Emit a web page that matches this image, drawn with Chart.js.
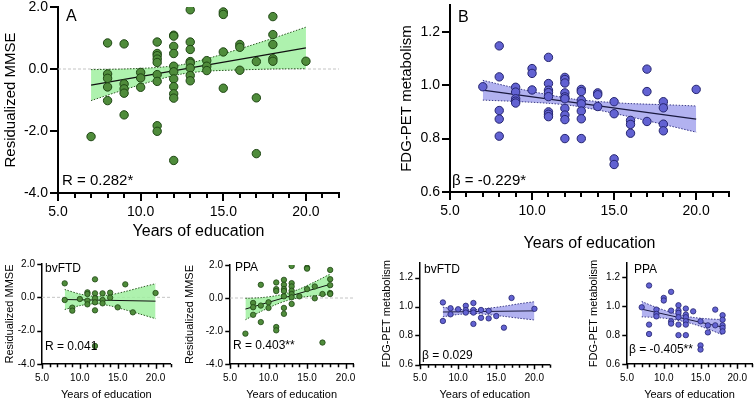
<!DOCTYPE html>
<html><head><meta charset="utf-8">
<script src="https://cdn.jsdelivr.net/npm/chart.js@4"></script>
<style>
html,body{margin:0;padding:0;background:#fff;}
body{width:756px;height:400px;overflow:hidden;position:relative;}
canvas{position:absolute;}
</style></head>
<body>
<canvas id="cA"></canvas><canvas id="cB"></canvas>
<canvas id="cC"></canvas><canvas id="cD"></canvas>
<canvas id="cE"></canvas><canvas id="cF"></canvas>
<script>
// ================= DATA =================
// shared x-axis ticks
const xTickValues = [5,6,7,8,9,10,11,12,13,14,15,16,17,18,19,20,21,22];
const xMajor = [5,10,15,20];
const xTickLabels = ['5.0','10.0','15.0','20.0'];
const mmseTicks = [-4,-2,0,2];
const mmseTickLabels = ['-4.0','-2.0','0.0','2.0'];
const fdgTicks = [0.6,0.8,1.0,1.2];
const fdgTickLabels = ['0.6','0.8','1.0','1.2'];

// Panel A: all patients, residualized MMSE
const eduA = [7, 8,8,8,8,8, 9,9,9,9,9, 10,10,10, 11,11,11,11,11,11,11,11,11,
  12,12,12,12,12,12,12,12,12,12,12, 13,13,13,13,13,13,13,13, 14,14,14,
  15,15,15,15, 16,16,16, 17,17,17, 18,18,18,18,18, 20];
const mmseA = [-2.18, 0.84,-0.16,-0.30,-0.58,-1.02, 0.81,-0.48,-0.64,-0.78,-1.48,
  -0.11,-0.29,-0.59, 0.87,0.50,0.43,0.32,0.21,-0.18,-0.40,-1.83,-2.01,
  1.09,1.06,0.73,0.50,0.09,-0.09,-0.32,-0.57,-0.80,-0.94,-2.95,
  1.91,0.87,0.63,0.24,0.19,0.03,-0.21,-0.38, 0.27,0.09,-0.05,
  1.84,1.76,0.55,-0.62, 0.79,0.70,-0.04, 0.24,-0.93,-2.73,
  1.69,1.11,0.79,0.33,0.25, 0.25];
const fitXA = [7, 20];
const fitYA = [-0.52, 0.68];
const bandXA = [7, 9, 11, 12.5, 14, 16, 18, 20];
const bandUpA = [-0.02, 0.00, 0.05, 0.14, 0.33, 0.65, 0.99, 1.35];
const bandLoA = [-1.02, -0.67, -0.35, -0.16, -0.07, -0.03, 0.00, 0.01];

// Panel B: all patients, FDG-PET metabolism
const eduB = [7, 8,8,8,8,8, 9,9,9,9,9, 10,10,10, 11,11,11,11,11,11,11,11,
  12,12,12,12,12,12,12,12,12,12, 13,13,13,13,13,13,13, 14,14,14,
  15,15,15,15, 16,16,16, 17,17,17, 18,18,18,18, 20];
const fdgB = [0.994, 1.147,1.031,0.905,0.873,0.809, 0.992,0.974,0.949,0.940,0.933,
  1.062,1.044,0.982, 1.104,1.006,0.981,0.972,0.957,0.900,0.891,0.882,
  1.029,1.021,1.008,0.971,0.956,0.949,0.913,0.888,0.871,0.800,
  0.984,0.976,0.944,0.930,0.903,0.874,0.800, 0.971,0.964,0.920,
  0.938,0.893,0.724,0.703, 0.868,0.853,0.820, 1.060,0.976,0.864,
  0.938,0.915,0.854,0.829, 0.984];
const fitXB = [7, 20];
const fitYB = [0.981, 0.873];
const bandXB = [7, 9, 11, 12.5, 14, 16, 18, 20];
const bandUpB = [1.018, 0.989, 0.964, 0.948, 0.939, 0.931, 0.927, 0.922];
const bandLoB = [0.944, 0.939, 0.932, 0.923, 0.907, 0.881, 0.853, 0.824];

// Panel C: bvFTD, residualized MMSE
const eduC = [8,8, 9,9, 10, 11,11,11,11, 12,12,12,12,12,12, 13,13,13, 14,14, 15, 16, 17, 20];
const mmseC = [0.84,-0.16, -0.62,-0.80, -0.10, 0.30,0.20,-0.20,-0.42,
  1.08,0.24,-0.06,-0.30,-0.78,-2.92, 0.24,-0.16,-0.36, 0.28,-0.02, -0.60, 0.78, -0.90, 0.26];
const fitXC = [8, 20];
const fitYC = [-0.13, -0.23];
const bandXC = [8, 10, 12, 14, 16, 18, 20];
const bandUpC = [0.47, 0.20, 0.06, 0.15, 0.35, 0.59, 0.82];
const bandLoC = [-0.73, -0.50, -0.38, -0.51, -0.75, -1.01, -1.28];

// Panel D: PPA, residualized MMSE
const eduD = [7, 8,8,8, 9,9,9, 10,10, 11,11,11,11,11, 12,12,12,12,12,12,12,
  13,13,13,13,13,13,13, 14, 15,15,15, 16,16, 17,17, 18,18,18,18,18];
const mmseD = [-2.16, -0.30,-0.56,-1.02, 0.80,-0.46,-1.46, -0.26,-0.60,
  0.94,0.54,0.42,-1.76,-1.96, 1.10,0.80,0.54,0.42,0.10,-0.60,-0.96,
  1.94,0.90,0.70,0.44,0.24,0.04,-0.36, 0.10, 1.84,1.78,0.54, 0.70,-0.02,
  0.24,-2.70, 1.70,1.14,0.78,0.30,0.24];
const fitXD = [7, 18];
const fitYD = [-0.67, 0.83];
const bandXD = [7, 9, 11, 12.5, 14, 16, 18];
const bandUpD = [-0.02, 0.02, 0.14, 0.30, 0.54, 0.98, 1.45];
const bandLoD = [-1.32, -0.82, -0.39, -0.14, 0.02, 0.14, 0.21];

// Panel E: bvFTD, FDG-PET metabolism
const eduE = [8,8, 9,9, 10, 11,11,11, 12,12,12,12, 13,13, 14,14, 15, 16, 17, 20];
const fdgE = [1.028,0.900, 0.988,0.946, 0.981, 1.005,0.975,0.958,
  1.024,0.976,0.958,0.880, 0.976,0.922, 0.970,0.918, 0.934, 0.854, 1.059, 0.984];
const fitXE = [8, 20];
const fitYE = [0.962, 0.970];
const bandXE = [8, 10, 12, 14, 16, 18, 20];
const bandUpE = [0.995, 0.981, 0.978, 0.988, 1.002, 1.019, 1.033];
const bandLoE = [0.929, 0.945, 0.952, 0.944, 0.932, 0.919, 0.907];

// Panel F: PPA, FDG-PET metabolism
const eduF = [7, 8,8,8, 9,9,9, 10,10, 11,11,11,11, 12,12,12,12,12,12,
  13,13,13,13,13,13, 14, 15,15,15, 16,16, 17,17, 18,18,18,18,18];
const fdgF = [0.993, 1.144,0.873,0.808, 0.977,0.947,0.930, 1.058,1.040,
  1.100,0.970,0.896,0.880, 1.007,0.970,0.954,0.924,0.873,0.800,
  0.984,0.942,0.924,0.896,0.873,0.800, 0.965, 0.896,0.729,0.700,
  0.868,0.819, 0.977,0.868, 0.938,0.907,0.868,0.850,0.826];
const fitXF = [7, 18];
const fitYF = [0.980, 0.855];
const bandXF = [7, 9, 11, 12.5, 14, 16, 18];
const bandUpF = [1.033, 0.992, 0.958, 0.937, 0.923, 0.913, 0.908];
const bandLoF = [0.927, 0.922, 0.912, 0.897, 0.877, 0.843, 0.802];

// ================= RENDERING =================
Chart.defaults.font.family = "'Liberation Sans', Arial, Helvetica, sans-serif";
Chart.defaults.color = '#000';

const GREEN = {pt:'#4f8c3b', ptBorder:'#1e4613', band:'rgba(160,240,160,0.85)', line:'#111', dot:'#2d5a24'};
const BLUE  = {pt:'#6262d2', ptBorder:'#24246e', band:'rgba(170,170,238,0.9)', line:'#1a1a40', dot:'#3a3a88'};

const pts = (xs, ys) => xs.map((x,i)=>({x, y: ys[i]}));

const axisTicks = {
  id: 'axisTicks',
  afterDraw(chart, args, o) {
    const {ctx, chartArea: ca} = chart;
    const xs = chart.scales.x, ys = chart.scales.y;
    ctx.save();
    ctx.strokeStyle = '#000';
    ctx.lineWidth = o.width;
    ctx.beginPath();
    const off = o.width % 2 ? 0.5 : 0;
    xTickValues.filter(v => v <= o.xMax).forEach(v => {
      const px = Math.round(xs.getPixelForValue(v)) + off;
      const len = xMajor.includes(v) ? o.major : o.minor;
      ctx.moveTo(px, ca.bottom); ctx.lineTo(px, ca.bottom + len + o.width/2);
    });
    o.yTicks.forEach(v => {
      const py = Math.round(ys.getPixelForValue(v)) + off;
      ctx.moveTo(ca.left - o.major - o.width/2, py); ctx.lineTo(ca.left, py);
    });
    ctx.stroke();
    ctx.restore();
  }
};

const notes = {
  id: 'notes',
  afterDraw(chart, args, o) {
    const {ctx} = chart;
    ctx.save();
    ctx.fillStyle = '#000';
    ctx.textBaseline = 'middle';
    ctx.textAlign = 'left';
    o.items.forEach(it => {
      ctx.font = it.size + "px 'Liberation Sans', Arial, sans-serif";
      ctx.fillText(it.text, it.x - o.ox, it.y - o.oy);
    });
    ctx.restore();
  }
};

function panel(id, c) {
  const cv = document.getElementById(id);
  cv.width = c.box.w; cv.height = c.box.h;
  cv.style.left = c.box.x + 'px'; cv.style.top = c.box.y + 'px';
  const a = c.area;
  const xMax = c.xMax || 22;
  const lhT = c.titleSize * 1.2;
  const lhX = c.xTitleSize * 1.2;
  const yScaleLeft = c.yTitleCx - lhT / 2;
  const yw = a.L - yScaleLeft;
  const xScaleBottom = c.xTitleCy + lhX / 2;
  const xh = xScaleBottom - a.B;
  const pad = {
    left: yScaleLeft - c.box.x,
    top: a.T - c.box.y,
    right: c.box.x + c.box.w - a.R,
    bottom: c.box.y + c.box.h - xScaleBottom
  };
  const col = c.color;
  const datasets = [
    {type:'scatter', data: pts(c.xs, c.ys), backgroundColor: col.pt, borderColor: col.ptBorder,
     borderWidth: c.ptBorder, pointRadius: c.r, pointHoverRadius: c.r},
    {type:'line', data: pts(c.fitX, c.fitY), borderColor: col.line, borderWidth: c.lineW,
     pointRadius: 0, fill: false},
    {type:'line', data: pts(c.bandX, c.bandUp), borderColor: col.dot, borderWidth: 1,
     borderDash: [1.5, 1.5], pointRadius: 0, fill: false, tension: 0.3},
    {type:'line', data: pts(c.bandX, c.bandLo), borderColor: col.dot, borderWidth: 1,
     borderDash: [1.5, 1.5], pointRadius: 0, fill: '-1', backgroundColor: col.band, tension: 0.3}
  ];
  if (c.zeroLine) {
    datasets.push({type:'line', data: pts([5, xMax], [0, 0]), borderColor: '#c4c4c4', borderWidth: 1,
      borderDash: [3, 2], pointRadius: 0, fill: false});
  }
  new Chart(cv, {
    type: 'scatter',
    data: {datasets},
    plugins: [axisTicks, notes],
    options: {
      responsive: false, animation: false, events: [],
      layout: {padding: pad},
      plugins: {
        legend: {display: false}, tooltip: {enabled: false},
        axisTicks: {width: c.axisW, major: c.tickMajor, minor: c.tickMinor, yTicks: c.yTicks, xMax},
        notes: {ox: c.box.x, oy: c.box.y, items: c.notes}
      },
      scales: {
        x: {
          type: 'linear', min: 5, max: xMax,
          afterBuildTicks: s => { s.ticks = xTickValues.filter(v => v <= xMax).map(v => ({value: v})); },
          afterFit: s => { s.height = xh; },
          grid: {display: true, drawOnChartArea: false, drawTicks: true, tickLength: c.tickMajor,
                 tickColor: 'rgba(0,0,0,0)'},
          border: {display: true, color: '#000', width: c.axisW},
          ticks: {autoSkip: false, maxRotation: 0, padding: c.xTickPad,
                  font: {size: c.tickSize},
                  callback: v => { const i = xMajor.indexOf(v); return i >= 0 ? xTickLabels[i] : ''; }},
          title: {display: true, text: 'Years of education', font: {size: c.xTitleSize}, padding: 0}
        },
        y: {
          type: 'linear', min: c.yMin, max: c.yMax,
          afterBuildTicks: s => { s.ticks = c.yTicks.map(v => ({value: v})); },
          afterFit: s => { s.width = yw; },
          grid: {display: true, drawOnChartArea: false, drawTicks: true, tickLength: c.tickMajor,
                 tickColor: 'rgba(0,0,0,0)'},
          border: {display: true, color: '#000', width: c.axisW},
          ticks: {autoSkip: false, padding: c.yTickPad, font: {size: c.tickSize},
                  callback: v => { const i = c.yTicks.findIndex(t => Math.abs(t - v) < 1e-9); return i >= 0 ? c.yLabels[i] : ''; }},
          title: {display: true, text: c.yTitle, font: {size: c.titleSize}, padding: 0}
        }
      }
    }
  });
}

// ----- top row -----
panel('cA', {
  box: {x: 0, y: -13, w: 345, h: 270},
  area: {L: 58, T: 7, R: 339, B: 193},
  yTitleCx: 10.5, xTitleCy: 232, titleSize: 15, xTitleSize: 16, tickSize: 14,
  xTickPad: 4, yTickPad: 3, tickMajor: 7, tickMinor: 4, axisW: 2,
  yMin: -4, yMax: 2, yTicks: mmseTicks, yLabels: mmseTickLabels, yTitle: 'Residualized MMSE',
  xs: eduA, ys: mmseA, fitX: fitXA, fitY: fitYA, bandX: bandXA, bandUp: bandUpA, bandLo: bandLoA,
  color: GREEN, r: 4.2, ptBorder: 1, lineW: 1.3, zeroLine: true,
  notes: [{text: 'A', x: 66, y: 17, size: 16}, {text: 'R = 0.282*', x: 62, y: 181, size: 15}]
});
panel('cB', {
  box: {x: 390, y: -15, w: 345, h: 275},
  area: {L: 450, T: 5, R: 729, B: 192},
  yTitleCx: 407, xTitleCy: 244, titleSize: 15, xTitleSize: 16, tickSize: 14,
  xTickPad: 4, yTickPad: 3, tickMajor: 7, tickMinor: 4, axisW: 2,
  yMin: 0.6, yMax: 1.3, yTicks: fdgTicks, yLabels: fdgTickLabels, yTitle: 'FDG-PET metabolism',
  xs: eduB, ys: fdgB, fitX: fitXB, fitY: fitYB, bandX: bandXB, bandUp: bandUpB, bandLo: bandLoB,
  color: BLUE, r: 4.2, ptBorder: 1, lineW: 1.3, zeroLine: false,
  notes: [{text: 'B', x: 458, y: 18, size: 16}, {text: 'β = -0.229*', x: 452, y: 181, size: 15}]
});
// ----- bottom row -----
panel('cC', {
  box: {x: 0, y: 250, w: 176, h: 155},
  area: {L: 42, T: 264, R: 170.7, B: 364},
  yTitleCx: 10, xTitleCy: 395, titleSize: 11, xTitleSize: 11, tickSize: 10,
  xTickPad: 4, yTickPad: 3, tickMajor: 4, tickMinor: 2.5, axisW: 1.5,
  yMin: -4, yMax: 2, yTicks: mmseTicks, yLabels: mmseTickLabels, yTitle: 'Residualized MMSE',
  xs: eduC, ys: mmseC, fitX: fitXC, fitY: fitYC, bandX: bandXC, bandUp: bandUpC, bandLo: bandLoC,
  color: GREEN, r: 2.7, ptBorder: 0.8, lineW: 1, zeroLine: true,
  notes: [{text: 'bvFTD', x: 45, y: 269, size: 12}, {text: 'R = 0.041', x: 45, y: 347, size: 12}]
});
panel('cD', {
  box: {x: 178, y: 250, w: 190, h: 155},
  area: {L: 230, T: 265, R: 353.3, B: 364}, xMax: 21,
  yTitleCx: 190, xTitleCy: 395, titleSize: 11, xTitleSize: 11, tickSize: 10,
  xTickPad: 4, yTickPad: 3, tickMajor: 4, tickMinor: 2.5, axisW: 1.5,
  yMin: -4, yMax: 2, yTicks: mmseTicks, yLabels: mmseTickLabels, yTitle: 'Residualized MMSE',
  xs: eduD, ys: mmseD, fitX: fitXD, fitY: fitYD, bandX: bandXD, bandUp: bandUpD, bandLo: bandLoD,
  color: GREEN, r: 2.7, ptBorder: 0.8, lineW: 1, zeroLine: true,
  notes: [{text: 'PPA', x: 235, y: 268, size: 12}, {text: 'R = 0.403**', x: 233, y: 346, size: 12}]
});
panel('cE', {
  box: {x: 375, y: 250, w: 180, h: 155},
  area: {L: 420, T: 263, R: 549.7, B: 364.5},
  yTitleCx: 387, xTitleCy: 395, titleSize: 11, xTitleSize: 11, tickSize: 10,
  xTickPad: 4, yTickPad: 3, tickMajor: 4, tickMinor: 2.5, axisW: 1.5,
  yMin: 0.6, yMax: 1.3, yTicks: fdgTicks, yLabels: fdgTickLabels, yTitle: 'FDG-PET metabolism',
  xs: eduE, ys: fdgE, fitX: fitXE, fitY: fitYE, bandX: bandXE, bandUp: bandUpE, bandLo: bandLoE,
  color: BLUE, r: 2.7, ptBorder: 0.8, lineW: 1, zeroLine: false,
  notes: [{text: 'bvFTD', x: 424, y: 270, size: 12}, {text: 'β = 0.029', x: 422, y: 356, size: 12}]
});
panel('cF', {
  box: {x: 582, y: 250, w: 174, h: 155},
  area: {L: 627, T: 263, R: 755, B: 364},
  yTitleCx: 594, xTitleCy: 395, titleSize: 11, xTitleSize: 11, tickSize: 10,
  xTickPad: 4, yTickPad: 3, tickMajor: 4, tickMinor: 2.5, axisW: 1.5,
  yMin: 0.6, yMax: 1.3, yTicks: fdgTicks, yLabels: fdgTickLabels, yTitle: 'FDG-PET metabolism',
  xs: eduF, ys: fdgF, fitX: fitXF, fitY: fitYF, bandX: bandXF, bandUp: bandUpF, bandLo: bandLoF,
  color: BLUE, r: 2.7, ptBorder: 0.8, lineW: 1, zeroLine: false,
  notes: [{text: 'PPA', x: 634, y: 270, size: 12}, {text: 'β = -0.405**', x: 629, y: 350, size: 12}]
});
</script>
</body></html>
